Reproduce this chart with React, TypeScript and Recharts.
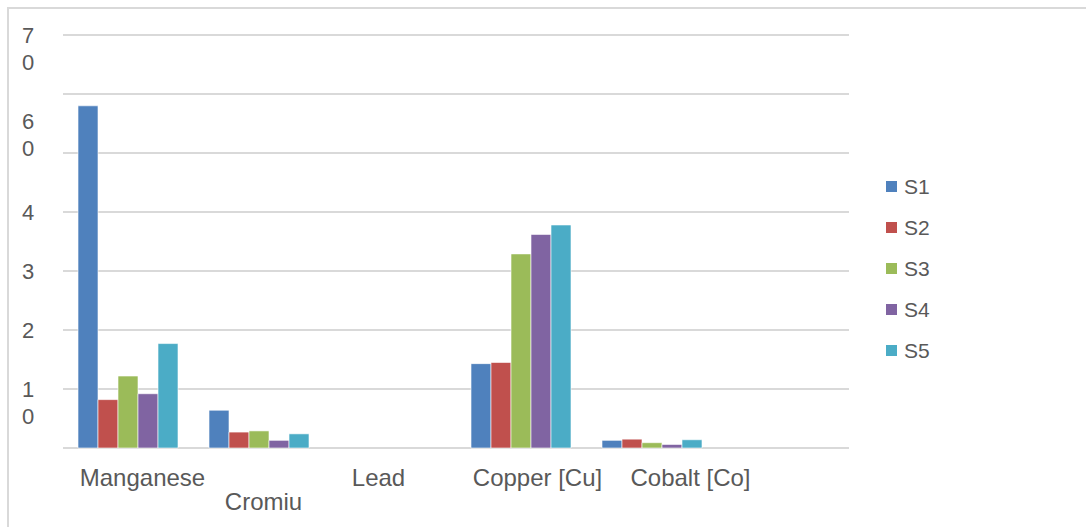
import React from 'react';
import { BarChart, Bar, XAxis, YAxis, CartesianGrid, Legend } from 'recharts';

// values
const categories = ['Manganese', 'Cromiu', 'Lead', 'Copper [Cu]', 'Cobalt [Co]', ''];
const s1 = [58.0, 6.4, 0, 14.3, 1.3, 0];
const s2 = [8.2, 2.7, 0, 14.5, 1.5, 0];
const s3 = [12.2, 2.9, 0, 32.9, 0.9, 0];
const s4 = [9.2, 1.3, 0, 36.2, 0.6, 0];
const s5 = [17.7, 2.4, 0, 37.8, 1.4, 0];
const seriesNames = ['S1', 'S2', 'S3', 'S4', 'S5'];
const yTicks = [0, 10, 20, 30, 40, 50, 60, 70];
// tick text as it shows in the picture (broken over lines)
const yTickText = ['', '1 0', '2', '3', '4', '6 0', '', '7 0'];

const colors = ['#4F81BD', '#C0504D', '#9BBB59', '#8064A2', '#4BACC6'];
const seriesValues = [s1, s2, s3, s4, s5];

const data = categories.map((name, i) => {
  const row: any = { name };
  seriesNames.forEach((s, j) => {
    row[s] = seriesValues[j][i];
  });
  return row;
});

const TEXT = '#595959';
const FONT = '"Liberation Sans", Arial, sans-serif';

// label nudges so the category names sit like the original
const xShift = [14, 4, -12, 16, 38, 0];
const xDrop = [0, 24, 0, 0, 0, 0];

const YTick = ({ y, payload }: any) => {
  const idx = yTicks.indexOf(payload.value);
  const txt = yTickText[idx] || '';
  if (!txt) return null;
  const parts = txt.split(' ');
  const start = payload.value === 50 ? -32 : 0;
  return (
    <g>
      {parts.map((p: string, k: number) => (
        <text
          key={k}
          x={20}
          y={y + start + k * 27}
          dy="0.36em"
          textAnchor="middle"
          fill={TEXT}
          fontSize={22}
          fontFamily={FONT}
        >
          {p}
        </text>
      ))}
    </g>
  );
};

const XTick = ({ x, y, payload, index }: any) => (
  <text
    x={x + (xShift[index] || 0)}
    y={y + 21 + (xDrop[index] || 0)}
    dy="0.36em"
    textAnchor="middle"
    fill={TEXT}
    fontSize={24}
    fontFamily={FONT}
  >
    {payload.value}
  </text>
);

const LegendBox = () => (
  <div style={{ fontFamily: FONT, fontSize: 21, color: TEXT }}>
    {seriesNames.map((s, i) => (
      <div key={s} style={{ display: 'flex', alignItems: 'center', height: 41 }}>
        <div style={{ width: 11, height: 11, background: colors[i], marginRight: 7 }} />
        {s}
      </div>
    ))}
  </div>
);

export default function App() {
  return (
    <div
      style={{
        position: 'absolute',
        left: 7,
        top: 7,
        width: 1100,
        height: 540,
        boxSizing: 'border-box',
        borderLeft: '2px solid #d9d9d9',
        borderTop: '2px solid #d9d9d9',
        background: '#fff',
      }}
    >
      <div style={{ position: 'absolute', left: -1, top: -1 }}>
        <BarChart
          width={1079}
          height={520}
          data={data}
          margin={{ top: 27, right: 118, left: 0, bottom: 20 }}
          barCategoryGap={15}
          barGap={0}
        >
          <CartesianGrid vertical={false} stroke="#d9d9d9" strokeWidth={2} />
          <XAxis
            dataKey="name"
            axisLine={false}
            tickLine={false}
            interval={0}
            height={60}
            tick={<XTick />}
          />
          <YAxis
            domain={[0, 70]}
            ticks={yTicks}
            interval={0}
            axisLine={false}
            tickLine={false}
            width={55}
            tick={<YTick />}
          />
          <Legend
            layout="vertical"
            verticalAlign="top"
            align="right"
            content={<LegendBox />}
            wrapperStyle={{ left: 878, top: 158, width: 120 }}
          />
          {seriesNames.map((s, i) => (
            <Bar
              key={s}
              dataKey={s}
              fill={colors[i]}
              stroke="#ffffff"
              strokeOpacity={0.6}
              strokeWidth={1}
              isAnimationActive={false}
            />
          ))}
        </BarChart>
      </div>
    </div>
  );
}
